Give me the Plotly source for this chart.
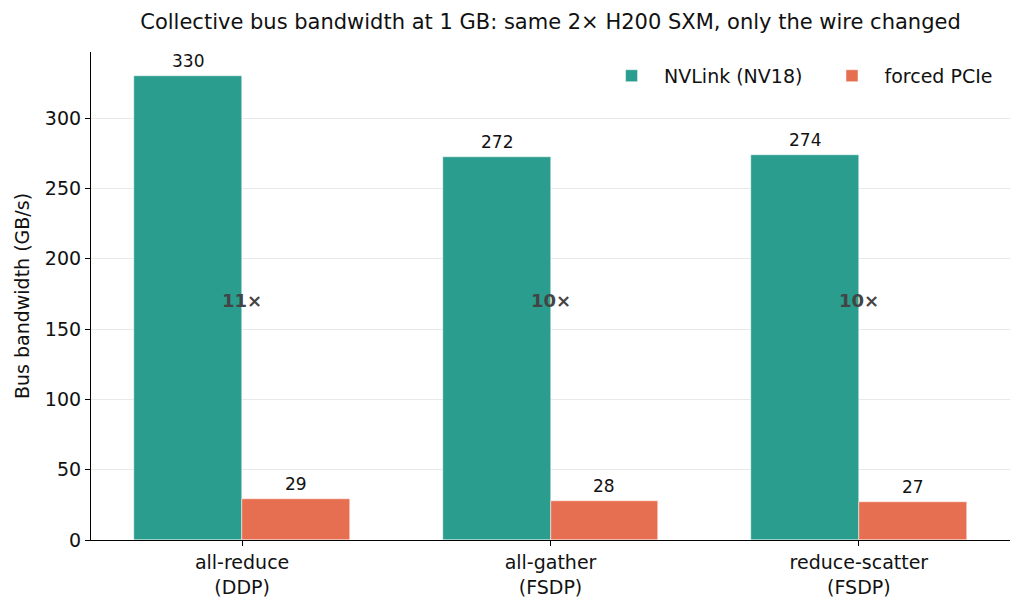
import plotly.graph_objects as go

collectives = ['all-reduce<br>(DDP)', 'all-gather<br>(FSDP)', 'reduce-scatter<br>(FSDP)']
nvlink_bw = [330, 272, 274]
pcie_bw = [29, 28, 27]

x_pos = list(range(len(collectives)))
bar_w = 0.35
font_family = 'DejaVu Sans'

fig = go.Figure()
fig.add_trace(go.Bar(
    x=[i - bar_w / 2 for i in x_pos], y=nvlink_bw, width=bar_w,
    name='NVLink (NV18)\u00a0\u00a0',  # a bit of extra room between legend entries
    marker=dict(color='#2a9d8f', line=dict(color='#FFFFFF', width=0.5)),
))
fig.add_trace(go.Bar(
    x=[i + bar_w / 2 for i in x_pos], y=pcie_bw, width=bar_w,
    name='forced PCIe',
    marker=dict(color='#e76f51', line=dict(color='#FFFFFF', width=0.5)),
))

# value labels above bars
for i in x_pos:
    for xv, v in ((i - bar_w / 2, nvlink_bw[i]), (i + bar_w / 2, pcie_bw[i])):
        fig.add_annotation(x=xv, y=v, text=str(v), showarrow=False, yanchor='bottom',
                           yshift=3, font=dict(size=17, color='#111111'))

# speedup labels in the middle of each group
mid_y = max(nvlink_bw) * 0.515
for i, (a, b) in enumerate(zip(nvlink_bw, pcie_bw)):
    fig.add_annotation(x=i, y=mid_y, text='<b>%d×</b>' % round(a / b),
                       showarrow=False, font=dict(size=18, color='#444444'))

# page has an 8px body margin, so the figure is a bit smaller than the window
fig.update_layout(
    width=1016, height=601,
    margin=dict(l=83, r=14, t=44, b=69),
    plot_bgcolor='#FFFFFF', paper_bgcolor='#FFFFFF',
    font=dict(family=font_family, size=19, color='#111111'),
    title=dict(text='Collective bus bandwidth at 1 GB: same 2× H200 SXM, only the wire changed',
               x=0.5, xanchor='center', xref='paper', y=0.977, yanchor='middle',
               font=dict(size=21, color='#111111')),
    bargap=0, showlegend=True,
    legend=dict(orientation='h', x=0.987, xanchor='right', y=0.99, yanchor='top',
                bgcolor='rgba(0,0,0,0)', font=dict(size=19), itemwidth=55),
    xaxis=dict(range=[-0.49, 2.49], tickmode='array', tickvals=x_pos, ticktext=collectives,
               showline=True, linecolor='#000000', linewidth=1.2, ticks='outside',
               ticklen=5, tickcolor='#000000', showgrid=False, zeroline=False,
               tickfont=dict(size=19)),
    yaxis=dict(range=[0, 347], title=dict(text='Bus bandwidth (GB/s)', font=dict(size=19), standoff=10),
               dtick=50, showline=True, linecolor='#000000', linewidth=1.2, ticks='outside',
               ticklen=5, tickcolor='#000000', showgrid=True, gridcolor='#e8e8e8',
               zeroline=False, tickfont=dict(size=19)),
)

fig.write_html('out.html')
